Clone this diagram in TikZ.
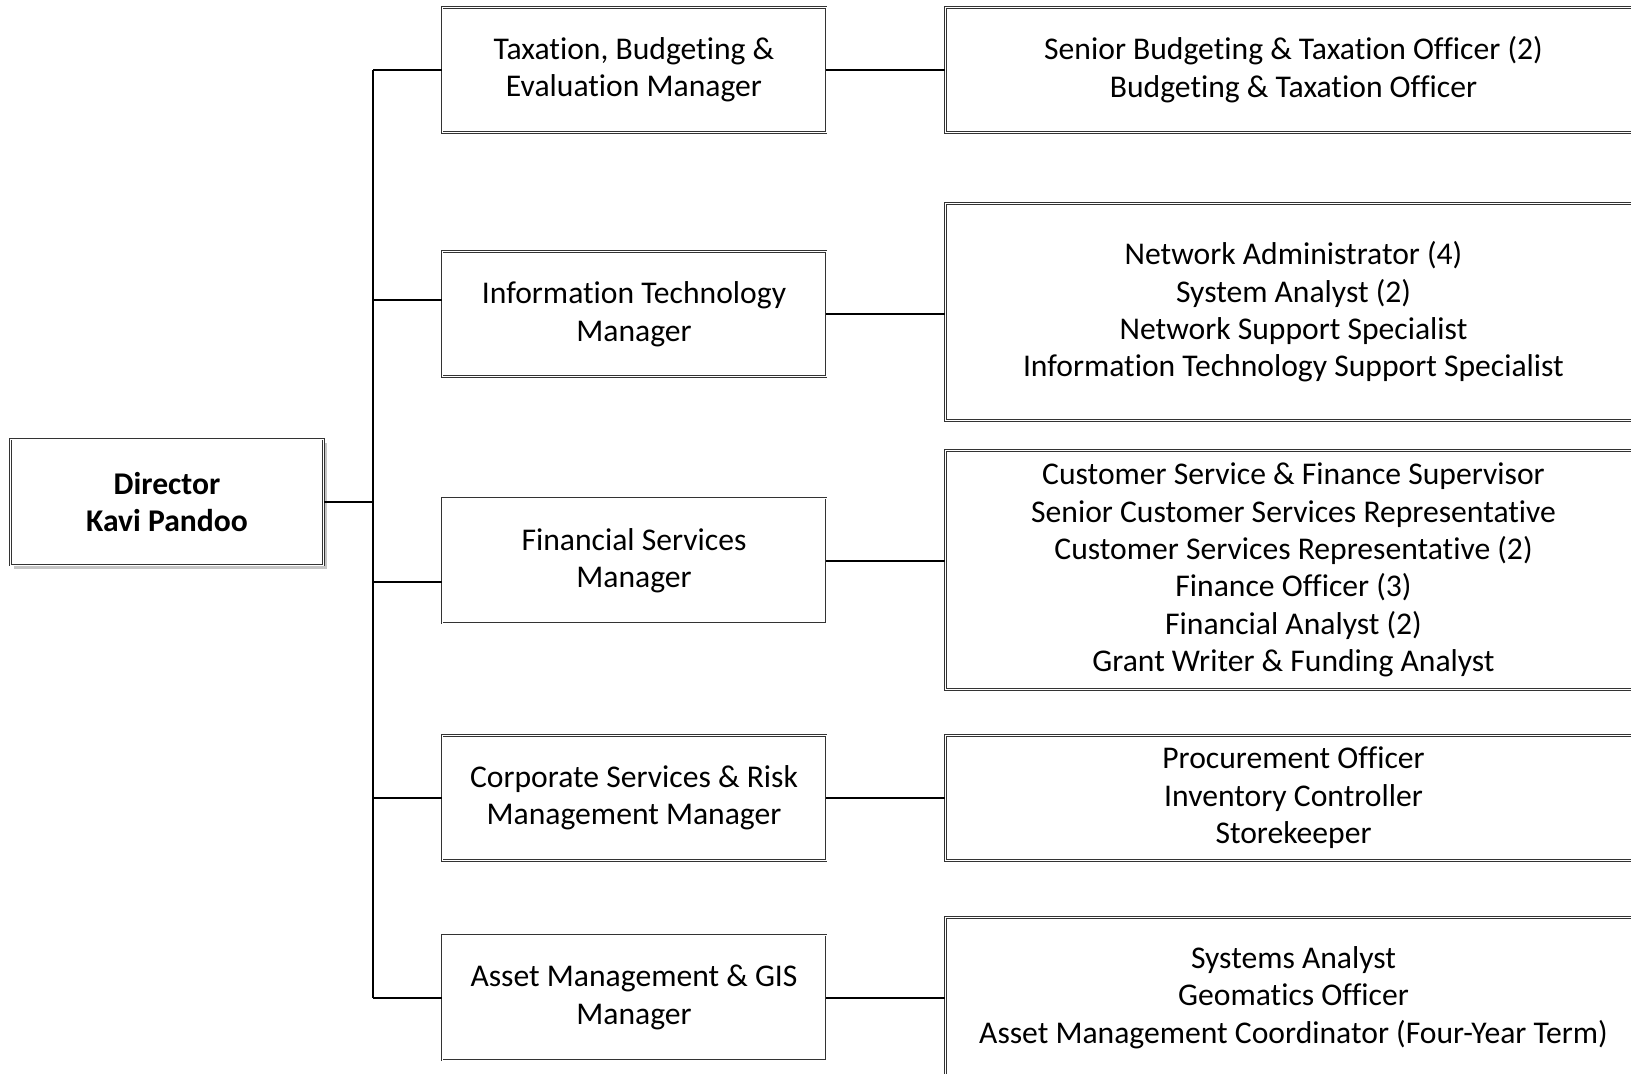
\documentclass[tikz,border=0pt]{standalone}
\usepackage{fontspec}
\setmainfont{Carlito}[Ligatures={NoCommon,NoRequired,NoContextual}, RawFeature={-dlig;-hlig}]
\usetikzlibrary{positioning, shadows}

\begin{document}
\begin{tikzpicture}[
    x=0.02cm, y=-0.02cm,
    every node/.style={font=\fontsize{18}{21.3}\selectfont, align=center, inner sep=0pt},
    box/.style={draw=black!80, double=white, line width=0.5pt, double distance=0.5pt, fill=white},
    mgr/.style={box, minimum width=7.68cm, minimum height=2.5cm},
    staff/.style={box, minimum width=13.92cm},
    link/.style={line width=1.1pt, black}
]

% page frame
\clip (0,0) rectangle (1631,1073);
\fill[white] (0,0) rectangle (1631,1073);

% Director
\node[box, minimum width=6.26cm, minimum height=2.52cm, font=\fontsize{18}{21.3}\selectfont\bfseries,
      drop shadow={shadow xshift=0.07cm, shadow yshift=-0.07cm, opacity=0.45}] (dir) at (167, 502) {Director\\Kavi Pandoo};

% Managers
\node[mgr] (m1) at (634, 69.7) {Taxation, Budgeting \&\\Evaluation Manager};
\node[mgr] (m2) at (634, 314.2) {Information Technology\\Manager};
\node[mgr] (m3) at (634, 560.6) {Financial Services\\Manager};
\node[mgr] (m4) at (634, 797.8) {Corporate Services \& Risk\\Management Manager};
\node[mgr] (m5) at (634, 997.6) {Asset Management \& GIS\\Manager};

% Staff
\node[staff, minimum height=2.5cm] (r1) at (1293.5, 69.7) {Senior Budgeting \& Taxation Officer (2)\\Budgeting \& Taxation Officer};
\node[staff, minimum height=4.33cm] (r2) at (1293.5, 312) {Network Administrator (4)\\System Analyst (2)\\Network Support Specialist\\Information Technology Support Specialist};
\node[staff, minimum height=4.78cm] (r3) at (1293.5, 570) {Customer Service \& Finance Supervisor\\Senior Customer Services Representative\\Customer Services Representative (2)\\Finance Officer (3)\\Financial Analyst (2)\\Grant Writer \& Funding Analyst};
\node[staff, minimum height=2.5cm] (r4) at (1293.5, 797.8) {Procurement Officer\\Inventory Controller\\Storekeeper};
\node[staff, minimum height=3.2cm] (r5) at (1293.5, 997.6) {Systems Analyst\\Geomatics Officer\\Asset Management Coordinator (Four-Year Term)};

% Trunk
\coordinate (tk) at (373.3, 0);
\coordinate (b2) at ([yshift=0.284cm]m2.west);
\coordinate (b3) at ([yshift=-0.42cm]m3.west);
\draw[link] (dir.east) -- (dir.east -| tk);
\draw[link] (tk |- m1.west) -- (tk |- m5.west);

% Branches
\foreach \b in {m1.west, b2, b3, m4.west, m5.west}
    \draw[link] (tk |- \b) -- (\b);
\foreach \i in {1,...,5}
    \draw[link] (m\i.east) -- (m\i.east -| r\i.west);

\end{tikzpicture}
\end{document}
